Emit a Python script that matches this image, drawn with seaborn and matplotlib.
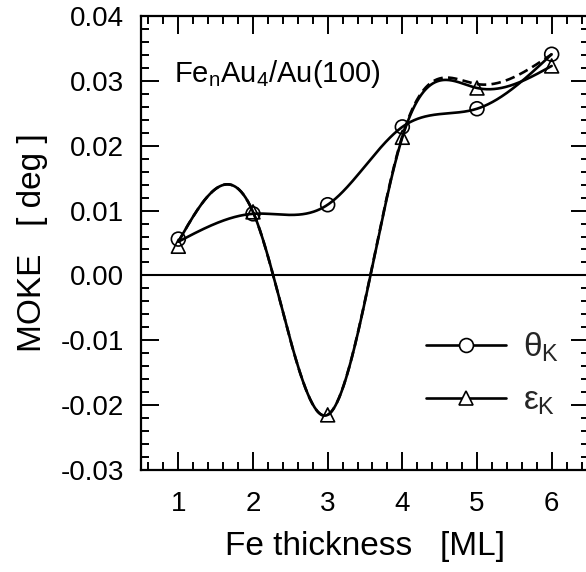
import numpy as np
import pandas as pd
import matplotlib
matplotlib.use("Agg")
import matplotlib.pyplot as plt
import seaborn as sns
from matplotlib.lines import Line2D
from matplotlib.ticker import MultipleLocator, FormatStrFormatter

# ---- data ----
thickness = [1, 2, 3, 4, 5, 6]
theta_k = [0.0056, 0.0095, 0.0109, 0.0229, 0.0257, 0.0341]
eps_k = [0.0045, 0.0098, -0.0215, 0.0213, 0.0289, 0.0323]
# smooth guide curves drawn through the points
theta_curve = [0.0052, 0.0095, 0.0109, 0.0229, 0.0257, 0.0341]
eps_curve = [0.0052, 0.0098, -0.0215, 0.0213, 0.0289, 0.0323]
eps_curve_dashed = [0.0052, 0.0098, -0.0215, 0.0215, 0.0295, 0.0341]

x_ticks = [1, 2, 3, 4, 5, 6]
y_ticks = [-0.03, -0.02, -0.01, 0.00, 0.01, 0.02, 0.03, 0.04]


def natural_spline(x, y, n=500):
    x = np.asarray(x, float)
    y = np.asarray(y, float)
    k = len(x)
    h = np.diff(x)
    A = np.zeros((k, k))
    b = np.zeros(k)
    A[0, 0] = 1
    A[-1, -1] = 1
    for i in range(1, k - 1):
        A[i, i - 1] = h[i - 1]
        A[i, i] = 2 * (h[i - 1] + h[i])
        A[i, i + 1] = h[i]
        b[i] = 6 * ((y[i + 1] - y[i]) / h[i] - (y[i] - y[i - 1]) / h[i - 1])
    M = np.linalg.solve(A, b)
    xs = np.linspace(x[0], x[-1], n)
    idx = np.clip(np.searchsorted(x, xs) - 1, 0, k - 2)
    x0, x1 = x[idx], x[idx + 1]
    hh = x1 - x0
    t0 = x1 - xs
    t1 = xs - x0
    ys = (M[idx] * t0 ** 3 + M[idx + 1] * t1 ** 3) / (6 * hh) \
        + (y[idx] / hh - M[idx] * hh / 6) * t0 \
        + (y[idx + 1] / hh - M[idx + 1] * hh / 6) * t1
    return xs, ys


sns.set_theme(style="white")
plt.rcParams["font.family"] = ["Liberation Sans", "DejaVu Sans"]
plt.rcParams["mathtext.fontset"] = "custom"
plt.rcParams["mathtext.rm"] = "Liberation Sans"
plt.rcParams["mathtext.it"] = "Liberation Sans"
plt.rcParams["axes.unicode_minus"] = False

fig = plt.figure(figsize=(5.86, 5.72), dpi=100)
fig.patch.set_facecolor("white")
ax = fig.add_axes([141 / 586, 1 - 470 / 572, 448 / 586, 454 / 572])

lw = 1.9
ax.axhline(0, color="black", lw=1.5, zorder=1)

for vals, ls in [(theta_curve, "-"), (eps_curve, "-"), (eps_curve_dashed, (0, (3.6, 2)))]:
    xs, ys = natural_spline(thickness, vals)
    df = pd.DataFrame({"x": xs, "y": ys})
    sns.lineplot(data=df, x="x", y="y", ax=ax, color="black", lw=lw,
                 linestyle=ls, estimator=None, sort=False, zorder=2)

pts_t = pd.DataFrame({"x": thickness, "y": theta_k})
pts_e = pd.DataFrame({"x": thickness, "y": eps_k})
sns.scatterplot(data=pts_t, x="x", y="y", ax=ax, marker="o", s=100,
                facecolor="none", edgecolor="black", linewidth=1.2, zorder=3)
sns.scatterplot(data=pts_e, x="x", y="y", ax=ax, marker="^", s=100,
                facecolor="none", edgecolor="black", linewidth=1.2, zorder=3)

ax.set_xlim(0.5, 6.5)
ax.set_ylim(-0.03, 0.04)
ax.set_xticks(x_ticks)
ax.set_yticks(y_ticks)
ax.yaxis.set_major_formatter(FormatStrFormatter("%.2f"))
ax.xaxis.set_minor_locator(MultipleLocator(0.2))
ax.yaxis.set_minor_locator(MultipleLocator(0.002))
ax.tick_params(which="both", direction="in", top=True, right=True,
               bottom=True, left=True, colors="black", width=1.4)
ax.tick_params(which="major", length=13, labelsize=20)
ax.tick_params(axis="y", which="major", pad=12)
ax.tick_params(axis="x", which="major", pad=15)
ax.tick_params(which="minor", length=6)
for s in ax.spines.values():
    s.set_color("black")
    s.set_linewidth(1.6)

ax.set_xlabel("Fe thickness   [ML]", fontsize=24, labelpad=10, color="black")
ax.set_ylabel("MOKE   [ deg ]", fontsize=24, labelpad=9, color="black")

ax.text(0.073, 0.855, r"Fe$_\mathregular{n}$Au$_\mathregular{4}$/Au(100)",
        transform=ax.transAxes, fontsize=21, color="black")

handles = [
    Line2D([], [], color="black", lw=lw, marker="o", markersize=10,
           markerfacecolor="white", markeredgecolor="black", markeredgewidth=1.2),
    Line2D([], [], color="black", lw=lw, marker="^", markersize=10,
           markerfacecolor="white", markeredgecolor="black", markeredgewidth=1.2),
]
ax.legend(handles, [r"$\theta_\mathregular{K}$", r"$\epsilon_\mathregular{K}$"],
          loc="lower right", bbox_to_anchor=(0.985, 0.065), frameon=False,
          fontsize=24, handlelength=2.4, handletextpad=0.5, labelspacing=0.66,
          borderpad=0.2)

fig.savefig("out.png", dpi=100, facecolor="white")
